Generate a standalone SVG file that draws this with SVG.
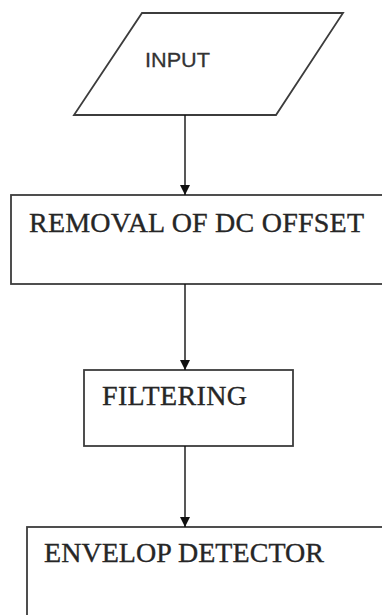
<svg xmlns="http://www.w3.org/2000/svg" width="382" height="615" viewBox="0 0 382 615">
<style>
.shape{fill:#fff;stroke:#3c3c3c;stroke-width:1.8}
.conn{stroke:#111;stroke-width:1.4;fill:none}
.serif{font-family:"Liberation Serif","Times New Roman",serif;font-size:28px;fill:#262626;stroke:#262626;stroke-width:0.35}
.sans{font-family:"Liberation Sans",Arial,sans-serif;font-size:21px;fill:#333;stroke:#333;stroke-width:0.3}
</style>
<defs>
<marker id="arr" markerWidth="10" markerHeight="10" refX="10" refY="5" orient="auto" markerUnits="userSpaceOnUse">
<path d="M0,0 L10,5 L0,10 Z" fill="#111"/>
</marker>
</defs>
<rect width="382" height="615" fill="#fff"/>
<g id="input">
<polygon class="shape" points="142,13 343,13 276,115 74,115"/>
<text class="sans" x="145" y="67" textLength="65" lengthAdjust="spacingAndGlyphs">INPUT</text>
</g>
<g id="removal">
<rect class="shape" x="11" y="195" width="380" height="89"/>
<text class="serif" x="29" y="232" textLength="335">REMOVAL OF DC OFFSET</text>
</g>
<g id="filtering">
<rect class="shape" x="84" y="370" width="209" height="76"/>
<text class="serif" x="102" y="405" textLength="145">FILTERING</text>
</g>
<g id="envelop">
<rect class="shape" x="27" y="527" width="370" height="100"/>
<text class="serif" x="44" y="562" textLength="280">ENVELOP DETECTOR</text>
</g>
<g id="connectors">
<line class="conn" x1="185" y1="115" x2="185" y2="195" marker-end="url(#arr)"/>
<line class="conn" x1="185" y1="284" x2="185" y2="370" marker-end="url(#arr)"/>
<line class="conn" x1="185" y1="446" x2="185" y2="527" marker-end="url(#arr)"/>
</g>
</svg>
